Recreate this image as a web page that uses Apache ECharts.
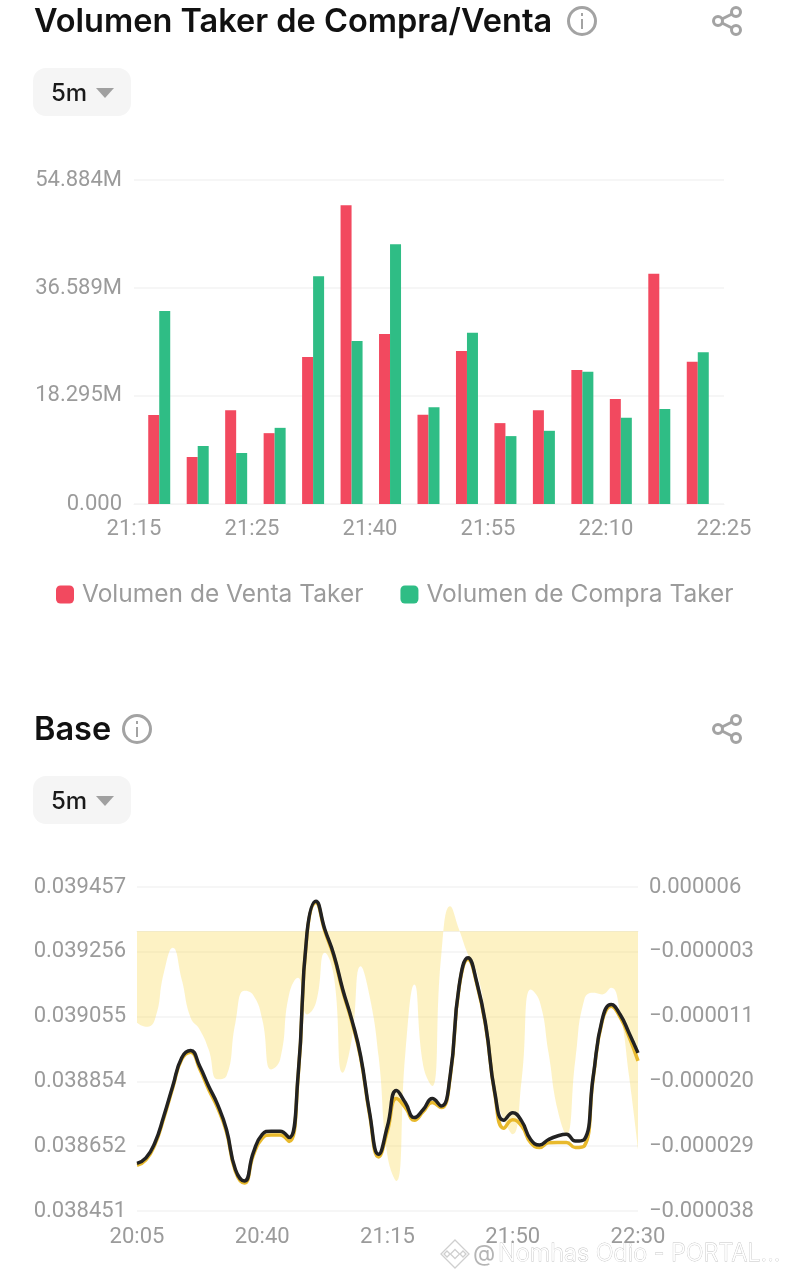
<!DOCTYPE html>
<html><head><meta charset="utf-8">
<style>html,body{margin:0;padding:0;background:#fff}#c{width:789px;height:1280px}</style>
<script src="https://cdn.jsdelivr.net/npm/echarts@6/dist/echarts.min.js"></script>
</head><body><div id="c"></div>
<script>
const volTitle = "Volumen Taker de Compra/Venta";
const baseTitle = "Base";
const barCats = ["21:15","21:20","21:25","21:30","21:35","21:40","21:45","21:50","21:55","22:00","22:05","22:10","22:15","22:20","22:25"];
const barAxisLabels = ["21:15","21:25","21:40","21:55","22:10","22:25"];
const sellVol = [15.08,7.96,15.9,12.0,24.9,50.6,28.8,15.1,25.9,13.7,15.9,22.7,17.8,39.0,24.1];
const buyVol = [32.7,9.83,8.64,12.9,38.6,27.6,44.0,16.4,29.0,11.5,12.4,22.4,14.6,16.1,25.7];
const volTicks = [0,18.2947,36.5893,54.884];
const volLabels = ["0.000","18.295M","36.589M","54.884M"];
const baseCats = ["20:05","20:07:30","20:10","20:12:30","20:15","20:17:30","20:20","20:22:30","20:25","20:27:30","20:30","20:32:30","20:35","20:37:30","20:40","20:42:30","20:45","20:47:30","20:50","20:52:30","20:55","20:57:30","21:00","21:02:30","21:05","21:07:30","21:10","21:12:30","21:15","21:17:30","21:20","21:22:30","21:25","21:27:30","21:30","21:32:30","21:35","21:37:30","21:40","21:42:30","21:45","21:47:30","21:50","21:52:30","21:55","21:57:30","22:00","22:02:30","22:05","22:07:30","22:10","22:12:30","22:15","22:17:30","22:20","22:22:30","22:30"];
const blackLine = [38599,38616,38663,38746,38839,38927,38949,38901,38839,38782,38704,38580,38544,38632,38689,38699,38699,38679,38870,39314,39413,39325,39247,39139,39046,38932,38756,38627,38715,38825,38787,38741,38766,38800,38777,38870,39149,39237,39159,39025,38818,38733,38756,38730,38673,38656,38673,38684,38689,38668,38673,38870,39046,39092,39061,39004,38942];
const yellowLine = [38593,38610,38657,38740,38834,38922,38944,38893,38829,38772,38696,38574,38538,38624,38677,38687,38687,38667,38864,39310,39409,39320,39241,39133,39040,38926,38750,38619,38700,38800,38772,38733,38760,38788,38772,38865,39145,39233,39154,39020,38813,38708,38734,38715,38663,38648,38663,38664,38664,38648,38653,38865,39041,39087,39053,38992,38917];
const areaLine = [-12.44,-12.98,-11.98,-5.65,-2.26,-6.56,-11.76,-13.34,-16.05,-20.12,-19.67,-12.44,-8.1,-8.7,-11.98,-18.77,-17.41,-8.59,-6.33,-11.31,-9.72,-2.94,-6.10,-19.22,-14.70,-4.75,-8.82,-16.96,-30.52,-33.92,-16.5,-7.24,-18.31,-21.03,-3.39,3.39,0.23,-3.17,-5.65,-11.98,-21.93,-25.55,-27.58,-20.12,-7.91,-9.5,-16.5,-24.19,-27.58,-17.41,-9.27,-8.37,-8.59,-7.69,-11.08,-19.67,-29.62];
const leftTicks = [38451,38652.2,38853.4,39054.6,39255.8,39457];
const leftLabels = ["0.038451","0.038652","0.038854","0.039055","0.039256","0.039457"];
const rightTicks = [-38,-29.2,-20.4,-11.6,-2.8,6];
const rightLabels = ["−0.000038","−0.000029","−0.000020","−0.000011","−0.000003","0.000006"];

const FONT = 'Inter, "Noto Sans", sans-serif';
const TICKFONT = 'Roboto, Inter, sans-serif';
const GRAY = '#9b9b9b', LINE = '#f3f3f3', ICON = '#a3a3a3';
const lab = (v, ticks, labels) => { let b = 0; ticks.forEach((t,i)=>{ if (Math.abs(t-v) < Math.abs(ticks[b]-v)) b = i; }); return labels[b]; };
const txt = (x,y,text,size,weight,fill,extra) => ({type:'text',x,y,style:Object.assign({text,font:`${weight} ${size}px ${FONT}`,fill,verticalAlign:'middle'},extra||{})});
function header(title, y, infoX){
  const c = (cx,cy)=>({type:'circle',shape:{cx,cy,r:4.5},style:{stroke:ICON,fill:'none',lineWidth:3}});
  const l = (x1,y1,x2,y2)=>({type:'line',shape:{x1,y1,x2,y2},style:{stroke:ICON,lineWidth:3}});
  const by = y + 71;
  return [
    txt(34,y+1.5,title,32.5,600,'#111'),
    {type:'circle',shape:{cx:infoX,cy:y,r:13.5},style:{stroke:ICON,fill:'none',lineWidth:3}},
    {type:'rect',shape:{x:infoX-1,y:y-2,width:2,height:10},style:{fill:ICON}},
    {type:'rect',shape:{x:infoX-1,y:y-8,width:2,height:3},style:{fill:ICON}},
    l(722,y-2,732,y-7),l(722,y+2,732,y+7),
    c(736,y-9),c(718,y),c(736,y+9),
    {type:'rect',shape:{x:33,y:by-24,width:98,height:48,r:13},style:{fill:'#f5f5f5'}},
    txt(51,by+2,'5m',24,500,'#1a1a1a'),
    {type:'polygon',shape:{points:[[96,by-4],[114,by-4],[105,by+6]]},style:{fill:'#a0a0a0'}}
  ];
}
const wm = 1254;
const dia = (cx,cy,r)=>({type:'polygon',shape:{points:[[cx,cy-r],[cx+r,cy],[cx,cy+r],[cx-r,cy]]},style:{fill:'#fff',stroke:'#cfcfcf',lineWidth:1.3}});
const logo = [
  dia(455,wm,14),dia(455,wm,4.5),dia(447,wm,3),dia(463,wm,3),
  txt(473,wm,'@',23,400,'#b5b5b5'),
  txt(498,wm,'Nomhas Odio - PORTAL...',23.5,300,'#fff',{stroke:'#c4c4c4',lineWidth:0.8})
];
const tickLabel = (margin, extra) => Object.assign({color:GRAY,fontFamily:TICKFONT,fontSize:22,margin},extra);
const option = {
  animation:false,
  textStyle:{fontFamily:FONT},
  legend:{left:56,top:582,padding:0,itemWidth:18,itemHeight:18,itemGap:37,icon:'roundRect',
    textStyle:{color:GRAY,fontSize:24.5,fontFamily:FONT,padding:[0,0,0,3]},data:['Volumen de Venta Taker','Volumen de Compra Taker']},
  grid:[
    {left:134,right:65,top:180,height:324},
    {left:140,right:72,top:180,height:324},
    {left:137,right:151,top:887,bottom:69}
  ],
  xAxis:[
    {type:'category',gridIndex:0,data:barAxisLabels,boundaryGap:false,axisLine:{show:true,lineStyle:{color:LINE}},axisTick:{show:false},
      axisLabel:tickLabel(14,{interval:0,hideOverlap:false})},
    {type:'category',gridIndex:1,data:barCats,show:false},
    {type:'category',gridIndex:2,data:baseCats,boundaryGap:false,axisLine:{show:true,lineStyle:{color:LINE}},axisTick:{show:false},
      axisLabel:tickLabel(15,{interval:13,hideOverlap:false})}
  ],
  yAxis:[
    {type:'value',gridIndex:0,min:0,max:54.884,splitLine:{show:true,lineStyle:{color:LINE,width:1.5}},
      axisLine:{show:false},axisTick:{show:false,customValues:volTicks},
      axisLabel:tickLabel(12,{padding:[2,0,0,0],customValues:volTicks,formatter:v=>lab(v,volTicks,volLabels)})},
    {type:'value',gridIndex:1,min:0,max:54.884,show:false},
    {type:'value',gridIndex:2,min:38451,max:39457,splitLine:{show:true,lineStyle:{color:LINE,width:1.5}},
      axisLine:{show:false},axisTick:{show:false,customValues:leftTicks},
      axisLabel:tickLabel(11,{padding:[2,0,0,0],customValues:leftTicks,formatter:v=>lab(v,leftTicks,leftLabels)})},
    {type:'value',gridIndex:2,position:'right',min:-38,max:6,splitLine:{show:false},
      axisLine:{show:false},axisTick:{show:false,customValues:rightTicks},
      axisLabel:tickLabel(11,{padding:[2,0,0,0],customValues:rightTicks,formatter:v=>lab(v,rightTicks,rightLabels)})}
  ],
  series:[
    {name:'Volumen de Venta Taker',type:'bar',xAxisIndex:1,yAxisIndex:1,data:sellVol,barWidth:11,barGap:'0%',itemStyle:{color:'#f2495f'}},
    {name:'Volumen de Compra Taker',type:'bar',xAxisIndex:1,yAxisIndex:1,data:buyVol,barWidth:11,barGap:'0%',itemStyle:{color:'#2fbd85'}},
    {name:'Area',type:'line',xAxisIndex:2,yAxisIndex:3,data:areaLine,smooth:true,symbol:'none',lineStyle:{width:0},areaStyle:{color:'#f8d33a',opacity:0.3},z:1},
    {name:'Yellow',type:'line',xAxisIndex:2,yAxisIndex:2,data:yellowLine,smooth:true,symbol:'none',lineStyle:{width:3.5,color:'#e8b92c'},z:3},
    {name:'Black',type:'line',xAxisIndex:2,yAxisIndex:2,data:blackLine,smooth:true,symbol:'none',lineStyle:{width:3.5,color:'#222222'},z:4}
  ],
  graphic:{elements:[...header(volTitle,21,582),...header(baseTitle,729,137),...logo]}
};
const chart = echarts.init(document.getElementById('c'),null,{renderer:'canvas'});
chart.setOption(option);
</script></body></html>
